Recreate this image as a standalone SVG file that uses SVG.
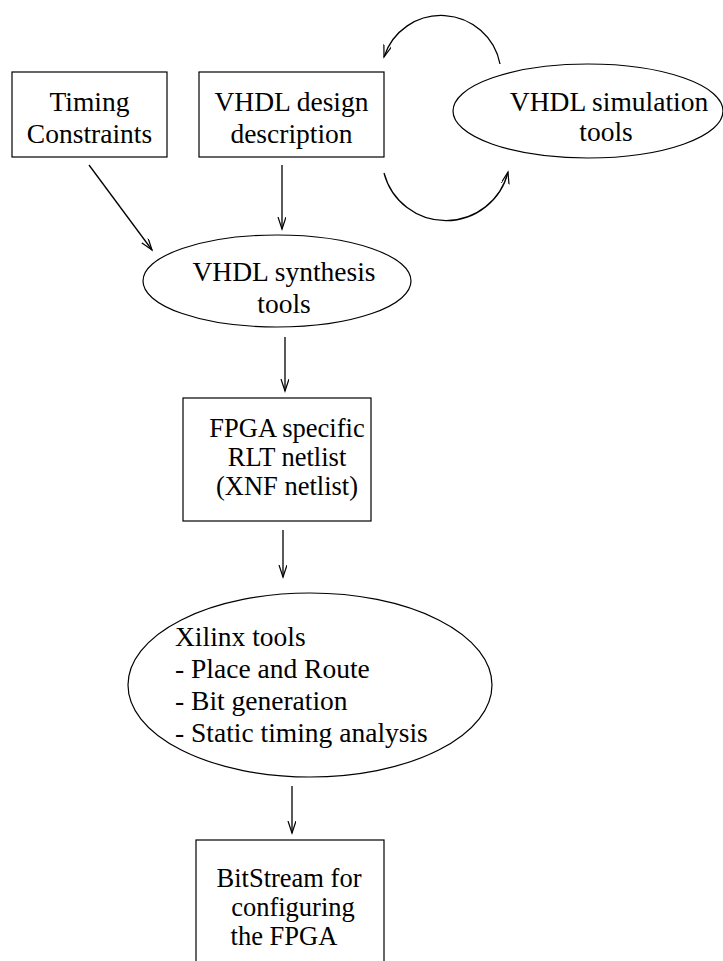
<svg xmlns="http://www.w3.org/2000/svg" width="723" height="961" viewBox="0 0 723 961">
<style>
.n{fill:#fff;stroke:#000;stroke-width:1.2}
.t{font-family:"Liberation Serif","Times New Roman",serif;font-size:27.5px;fill:#000}
.s{font-size:26.5px}
.c{text-anchor:middle}
.e{fill:none;stroke:#000;stroke-width:1.3}
</style>
<defs>
<marker id="ah" markerUnits="userSpaceOnUse" markerWidth="14" markerHeight="10" refX="12" refY="4" orient="auto">
<path d="M0,0 L12,4 L0,8" fill="none" stroke="#000" stroke-width="1.2"/>
</marker>
</defs>
<rect width="723" height="961" fill="#fff"/>
<g id="timing">
<rect class="n" x="12" y="72" width="155" height="85"/>
<text class="t c" x="89.5" y="111">Timing</text>
<text class="t c" x="89.5" y="143">Constraints</text>
</g>
<g id="vhdl-design">
<rect class="n" x="199" y="72" width="185" height="85"/>
<text class="t c" x="291.5" y="111">VHDL design</text>
<text class="t c" x="291.5" y="143">description</text>
</g>
<g id="vhdl-sim">
<ellipse class="n" cx="588" cy="111" rx="135" ry="47"/>
<text class="t c" x="609" y="111">VHDL simulation</text>
<text class="t c" x="606" y="141">tools</text>
</g>
<g id="vhdl-synth">
<ellipse class="n" cx="277" cy="281" rx="134" ry="46"/>
<text class="t c" x="284" y="281">VHDL synthesis</text>
<text class="t c" x="284" y="313">tools</text>
</g>
<g id="fpga-netlist">
<rect class="n" x="183" y="398" width="188" height="123"/>
<text class="t s c" x="287" y="437">FPGA specific</text>
<text class="t s c" x="287" y="466">RLT netlist</text>
<text class="t s c" x="287" y="495">(XNF netlist)</text>
</g>
<g id="xilinx">
<ellipse class="n" cx="310" cy="685" rx="182" ry="92"/>
<text class="t" x="175" y="646">Xilinx tools</text>
<text class="t" x="175" y="678">- Place and Route</text>
<text class="t" x="175" y="710">- Bit generation</text>
<text class="t" x="175" y="742">- Static timing analysis</text>
</g>
<g id="bitstream">
<rect class="n" x="196" y="840" width="188" height="130"/>
<text class="t s c" x="289" y="887">BitStream for</text>
<text class="t s c" x="293" y="916">configuring</text>
<text class="t s c" x="284" y="945">the FPGA</text>
</g>
<g id="connectors">
<path class="e" d="M89,165 L152,250" marker-end="url(#ah)"/>
<path class="e" d="M282,165 L282,229" marker-end="url(#ah)"/>
<path class="e" d="M500,64 A60,60 0 0 0 384,57" marker-end="url(#ah)"/>
<path class="e" d="M384,173 A64,64 0 0 0 508,172" marker-end="url(#ah)"/>
<path class="e" d="M285,337 L285,391" marker-end="url(#ah)"/>
<path class="e" d="M283,530 L283,577" marker-end="url(#ah)"/>
<path class="e" d="M292,786 L292,833" marker-end="url(#ah)"/>
</g>
</svg>
